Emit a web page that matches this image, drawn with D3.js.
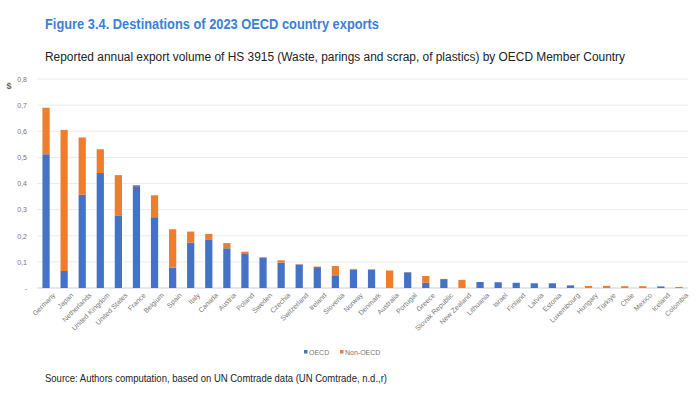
<!DOCTYPE html>
<html><head><meta charset="utf-8">
<script src="https://cdn.jsdelivr.net/npm/d3@7"></script>
<style>body{margin:0;background:#fff}svg{display:block}</style>
</head><body>
<svg id="c" width="700" height="393"></svg>
<script>
const countries = ["Germany","Japan","Netherlands","United Kingdom","United States","France","Belgium","Spain","Italy","Canada","Austria","Poland","Sweden","Czechia","Switzerland","Ireland","Slovenia","Norway","Denmark","Australia","Portugal","Greece","Slovak Republic","New Zealand","Lithuania","Israel","Finland","Latvia","Estonia","Luxembourg","Hungary","Türkiye","Chile","Mexico","Iceland","Colombia"];
const oecd =    [0.512,0.065,0.357,0.440,0.278,0.390,0.271,0.078,0.174,0.184,0.152,0.130,0.116,0.097,0.090,0.080,0.046,0.071,0.070,0.000,0.060,0.020,0.034,0.000,0.023,0.022,0.020,0.018,0.018,0.010,0.000,0.000,0.000,0.000,0.006,0.000];
const nonOecd = [0.178,0.540,0.219,0.091,0.154,0.004,0.084,0.147,0.042,0.023,0.020,0.009,0.002,0.009,0.001,0.002,0.038,0.002,0.002,0.067,0.001,0.026,0.001,0.031,0.000,0.000,0.000,0.000,0.000,0.000,0.008,0.008,0.007,0.007,0.000,0.004];
const yTicks = [0,0.1,0.2,0.3,0.4,0.5,0.6,0.7,0.8];
const seriesNames = ["OECD","Non-OECD"];
const colors = ["#4472C4","#ED7D31"];

const svg = d3.select("#c");
const font = "'Liberation Sans Narrow','Arial Narrow','Liberation Sans',sans-serif";

svg.append("text").attr("x",45).attr("y",29).attr("font-family",font).attr("font-weight","bold")
  .attr("font-size",14).attr("fill","#3c7fd6").attr("textLength",334).attr("lengthAdjust","spacingAndGlyphs")
  .text("Figure 3.4. Destinations of 2023 OECD country exports");
svg.append("text").attr("x",45).attr("y",61).attr("font-family",font)
  .attr("font-size",12).attr("fill","#222").attr("textLength",580).attr("lengthAdjust","spacingAndGlyphs")
  .text("Reported annual export volume of HS 3915 (Waste, parings and scrap, of plastics) by OECD Member Country");
svg.append("text").attr("x",45).attr("y",382).attr("font-family",font)
  .attr("font-size",10.5).attr("fill","#222").attr("textLength",342).attr("lengthAdjust","spacingAndGlyphs")
  .text("Source: Authors computation, based on UN Comtrade data (UN Comtrade, n.d.,r)");

const x = d3.scaleBand().domain(countries).range([37,688]).paddingInner(0.6).paddingOuter(0.3);
const y = d3.scaleLinear().domain([0,0.8]).range([288,79]);

const g = svg.append("g");
g.selectAll("line.grid").data(yTicks).join("line").attr("class","grid")
  .attr("x1",37).attr("x2",688).attr("y1",d=>y(d)).attr("y2",d=>y(d))
  .attr("stroke",d=>d===0?"#d0d0d0":"#ececec").attr("stroke-width",1);

const yAxis = svg.append("g").attr("transform","translate(30,0)")
  .call(d3.axisLeft(y).tickValues(yTicks).tickSize(0).tickFormat(d=>d===0?"-":d3.format(".1f")(d).replace(".",",")));
yAxis.select(".domain").remove();
yAxis.selectAll("text").attr("font-family",font).attr("font-size",7).attr("fill","#777");

svg.append("text").attr("x",9).attr("y",89).attr("font-family",font).attr("font-size",9).attr("font-weight","bold").attr("fill","#666").attr("text-anchor","middle").text("$");

const stackData = countries.map((c,i)=>({country:c, OECD:oecd[i], "Non-OECD":nonOecd[i]}));
const stacked = d3.stack().keys(seriesNames)(stackData);
svg.append("g").selectAll("g").data(stacked).join("g").attr("fill",(d,i)=>colors[i])
  .selectAll("rect").data(d=>d).join("rect")
  .attr("x",d=>x(d.data.country)).attr("width",x.bandwidth())
  .attr("y",d=>y(d[1])).attr("height",d=>Math.max(0,y(d[0])-y(d[1])));

const xAxis = svg.append("g").attr("transform","translate(0,288)")
  .call(d3.axisBottom(x).tickSize(0).tickPadding(6));
xAxis.select(".domain").remove();
xAxis.selectAll("text").attr("font-family",font).attr("font-size",7).attr("fill","#777")
  .attr("text-anchor","end").attr("dy","0.3em").attr("transform","translate(4,2) rotate(-45)");

const leg = svg.append("g").attr("font-family",font).attr("font-size",7).attr("fill","#777");
const legItems = [{n:"OECD",x:304},{n:"Non-OECD",x:340}];
legItems.forEach((d,i)=>{
  leg.append("rect").attr("x",d.x).attr("y",350).attr("width",3.5).attr("height",3.5).attr("fill",colors[i]);
  leg.append("text").attr("x",d.x+5).attr("y",354.5).text(d.n);
});
</script>
</body></html>
